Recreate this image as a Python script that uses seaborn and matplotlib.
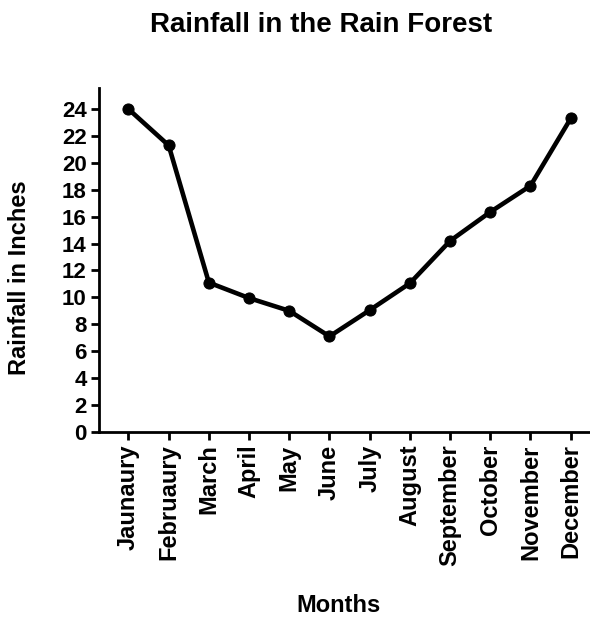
import matplotlib
matplotlib.use("Agg")
import matplotlib.pyplot as plt
import seaborn as sns
import pandas as pd

months = ["Jaunaury", "Februaury", "March", "April", "May", "June", "July",
          "August", "September", "October", "November", "December"]
rainfall = [24.0, 21.3, 11.1, 9.95, 9.0, 7.1, 9.05, 11.05, 14.2, 16.35, 18.3, 23.3]
yticks = list(range(0, 25, 2))

sns.set_theme(style="ticks")
plt.rcParams['font.family'] = ['Liberation Sans', 'DejaVu Sans']
plt.rcParams['font.weight'] = 'bold'
plt.rcParams['text.color'] = 'black'
plt.rcParams['axes.labelcolor'] = 'black'
plt.rcParams['xtick.color'] = 'black'
plt.rcParams['ytick.color'] = 'black'

df = pd.DataFrame({"Month": months, "Rainfall": rainfall})
df["idx"] = range(len(months))

fig = plt.figure(figsize=(5.9, 6.17), dpi=100)
ax = fig.add_axes([0.168, 0.300, 0.832, 0.557])
sns.lineplot(data=df, x="idx", y="Rainfall", ax=ax, color="black",
             linewidth=3.3, marker="o", markersize=8, markeredgecolor="black")

ax.set_xlim(-0.73, 11.48)
ax.set_ylim(0, 25.55)
ax.set_xticks(range(len(months)))
ax.set_xticklabels(months, rotation=90, fontsize=17, fontweight='bold', color='black')
ax.set_yticks(yticks)
ax.set_yticklabels([str(v) for v in yticks], fontsize=16, fontweight='bold', color='black')
ax.tick_params(axis='both', length=6, width=2, colors='black', pad=3)
for s in ["top", "right"]:
    ax.spines[s].set_visible(False)
for s in ["left", "bottom"]:
    ax.spines[s].set_linewidth(2)
    ax.spines[s].set_color('black')

ax.set_xlabel("Months", fontsize=17, fontweight='bold', color='black')
ax.set_ylabel("Rainfall in Inches", fontsize=17, fontweight='bold', color='black')
ax.xaxis.set_label_coords(0.488, -0.472)
ax.yaxis.set_label_coords(-0.138, 0.45)
fig.text(0.545, 0.98, "Rainfall in the Rain Forest", fontsize=20, fontweight='bold',
         color='black', ha='center', va='top')

fig.savefig("out.png", dpi=100)
